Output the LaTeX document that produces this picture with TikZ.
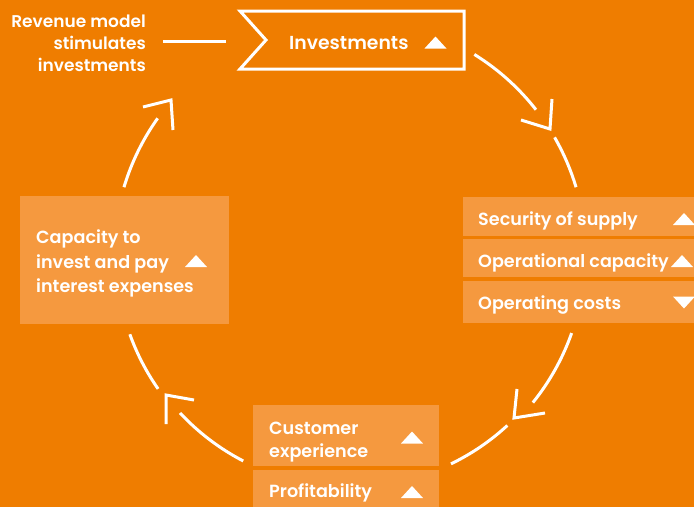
\documentclass[tikz,border=0pt]{standalone}
\usepackage{fontspec}
\usetikzlibrary{calc}
\setmainfont{Poppins}[UprightFont=* Medium, BoldFont=* SemiBold]
\definecolor{bgorange}{RGB}{239,125,0}
\definecolor{boxorange}{RGB}{245,153,63}
\newcommand\uptri[2]{\fill[white] (#1-11,#2+6) -- (#1+11,#2+6) -- (#1,#2-6) -- cycle;}
\newcommand\dntri[2]{\fill[white] (#1-11,#2-6) -- (#1+11,#2-6) -- (#1,#2+6) -- cycle;}
\tikzset{
  lbl/.style={text=white, inner sep=0pt, font=\fontsize{17.6}{22}\selectfont\bfseries},
  revlbl/.style={lbl, font=\fontsize{17}{22}\selectfont\bfseries},
  lightbox/.style={fill=boxorange, draw=none},
  cyc/.style={draw=white, line width=3pt},
}
\begin{document}
\begin{tikzpicture}[x=1pt,y=-1pt]
\fill[bgorange] (0,0) rectangle (694,507);
\useasboundingbox (0,0) rectangle (694,507);
% boxes
\fill[lightbox] (463,197) rectangle (694,236);
\fill[lightbox] (463,239) rectangle (694,277);
\fill[lightbox] (463,281) rectangle (694,323);
\fill[lightbox] (20,196) rectangle (229,324);
\fill[lightbox] (253,405) rectangle (439,466);
\fill[lightbox] (253,470) rectangle (439,507);
% investments shape
\draw[white, line width=3pt, line join=miter] (240,11) -- (464,11) -- (464,69) -- (240,69) -- (266,40) -- cycle;
\node[lbl, anchor=base west, font=\fontsize{18.8}{22}\selectfont\bfseries] (inv) at (289,49) {Investments};
\uptri{435.5}{42.5}
% revenue model text
\node[revlbl, anchor=base east] (rev1) at (146,27) {Revenue model};
\node[revlbl, anchor=base east] (rev2) at (146,49) {stimulates};
\node[revlbl, anchor=base east] (rev3) at (146,71) {investments};
\coordinate (l1) at (163,41);
\coordinate (l2) at (226,41);
\draw[white, line width=3pt] (l1) -- (l2);
% right texts
\node[lbl, anchor=base west] (sec) at (478,225) {Security of supply};
\node[lbl, anchor=base west] (opc) at (478,267) {Operational capacity};
\node[lbl, anchor=base west] (opk) at (478,309) {Operating costs};
\uptri{684}{219}
\uptri{682}{261}
\dntri{684}{302.5}
% left texts
\node[lbl, anchor=base west] (c1) at (36,243) {Capacity to};
\node[lbl, anchor=base west] (c2) at (36,268) {invest and pay};
\node[lbl, anchor=base west] (c3) at (36,292) {interest expenses};
\uptri{196}{261}
% bottom texts
\node[lbl, anchor=base west] (cu1) at (269,434) {Customer};
\node[lbl, anchor=base west] (cu2) at (269,457) {experience};
\node[lbl, anchor=base west] (pr) at (269,497) {Profitability};
\uptri{412}{437.5}
\uptri{412}{492}
% cycle arcs
\coordinate (O) at (350,255);
\draw[cyc] ($(O)+(-58.2:236)$) arc[start angle=-58.2, end angle=-38, radius=236];
\draw[cyc] ($(O)+(-29.9:236)$) arc[start angle=-29.9, end angle=-16.7, radius=236];
\draw[cyc] (521,120) -- (550,129) -- (552,99);
\draw[cyc] ($(O)+(19.4:235)$) arc[start angle=19.4, end angle=38.9, radius=235];
\draw[cyc] ($(O)+(47.3:232)$) arc[start angle=47.3, end angle=64.2, radius=232];
\draw[cyc] (517,389) -- (514,418) -- (545,413);
\draw[cyc] ($(O)+(117.4:232)$) arc[start angle=117.4, end angle=137.1, radius=232];
\draw[cyc] ($(O)+(145.1:234)$) arc[start angle=145.1, end angle=160.2, radius=234];
\draw[cyc] (194,400) -- (166,395) -- (166,424);
\draw[cyc] ($(O)+(196.7:236)$) arc[start angle=196.7, end angle=215.4, radius=236];
\draw[cyc] (143,107) -- (171,100) -- (173,130);
\end{tikzpicture}
\end{document}
